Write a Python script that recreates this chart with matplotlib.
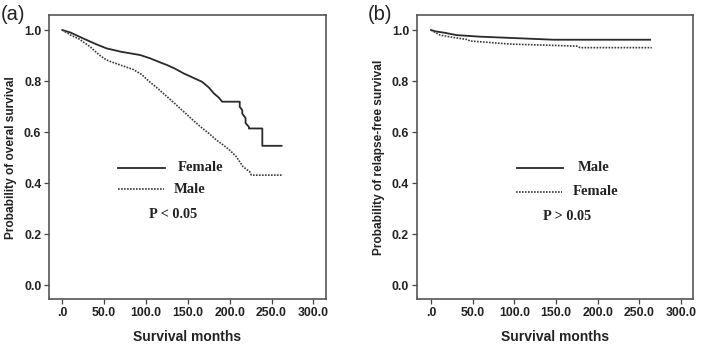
import matplotlib
matplotlib.use("Agg")
import matplotlib.pyplot as plt

# ---------------- data ----------------
# (a) overall survival
os_female_t = [0, 10, 25, 40, 53, 70, 93, 105, 117, 125, 135, 145, 155, 167, 175, 181, 187, 191,
               212, 212, 215, 215, 219, 219, 223, 223, 239, 239, 262]
os_female_s = [1.0, 0.99, 0.967, 0.945, 0.928, 0.915, 0.902, 0.889, 0.873, 0.863, 0.848, 0.830,
               0.815, 0.797, 0.775, 0.752, 0.735, 0.719,
               0.719, 0.699, 0.686, 0.673, 0.654, 0.635, 0.620, 0.614, 0.614, 0.546, 0.546]
os_male_t = [0, 10, 20, 33, 45, 53, 70, 85, 95, 105, 115, 125, 135, 145, 155, 165, 175, 184,
             192, 200, 208, 216, 224, 226, 262]
os_male_s = [1.0, 0.98, 0.965, 0.935, 0.90, 0.882, 0.862, 0.845, 0.825, 0.795, 0.768, 0.739,
             0.71, 0.68, 0.65, 0.621, 0.595, 0.569, 0.55, 0.529, 0.503, 0.464, 0.444, 0.431, 0.431]

# (b) relapse-free survival
rfs_male_t = [0, 5, 15, 31, 59, 111, 147, 263]
rfs_male_s = [1.0, 0.995, 0.99, 0.98, 0.974, 0.967, 0.962, 0.962]
rfs_female_t = [0, 11, 27, 43, 47, 95, 175, 179, 265]
rfs_female_s = [1.0, 0.98, 0.971, 0.963, 0.957, 0.945, 0.937, 0.931, 0.931]

xticks = [0, 50, 100, 150, 200, 250, 300]
xticklabels = [".0", "50.0", "100.0", "150.0", "200.0", "250.0", "300.0"]
yticks = [0.0, 0.2, 0.4, 0.6, 0.8, 1.0]
yticklabels = ["0.0", "0.2", "0.4", "0.6", "0.8", "1.0"]

# ---------------- figure ----------------
fig = plt.figure(figsize=(7.01, 3.46), dpi=100)
ax_a = fig.add_axes([49/701, 1-299.3/346, (326-49)/701, (299.3-15)/346])
ax_b = fig.add_axes([416.7/701, 1-299.3/346, (693.3-416.7)/701, (299.3-15)/346])

solid_kw = dict(color="#2a2a2a", lw=1.3, linestyle="-")
dot_kw = dict(color="#3a3a3a", lw=1.2, linestyle=(0, (1, 0.8)))
serif = ["Liberation Serif", "DejaVu Serif"]
sans = ["Liberation Sans", "DejaVu Sans"]


def style(ax, xlim, ylabel):
    ax.set_xlim(*xlim)
    ax.set_ylim(-0.056, 1.059)
    ax.set_xticks(xticks)
    ax.set_xticklabels(xticklabels, fontsize=8.8, fontweight="bold", family=sans, color="#222")
    ax.set_yticks(yticks)
    ax.set_yticklabels(yticklabels, fontsize=8.8, fontweight="bold", family=sans, color="#222")
    ax.tick_params(direction="out", length=3.5, width=0.9, color="#444", pad=2)
    for sp in ax.spines.values():
        sp.set_color("#555555")
        sp.set_linewidth(1.2)
    ax.set_xlabel("Survival months", fontsize=10, fontweight="bold", family=sans,
                  color="#222", labelpad=8)
    ax.set_ylabel(ylabel, fontsize=8.6, fontweight="bold", family=sans, color="#222", labelpad=5)


# (a)
ax_a.plot(os_female_t, os_female_s, **solid_kw)
ax_a.plot(os_male_t, os_male_s, **dot_kw)
style(ax_a, (-15.9, 315.1), "Probability of overal survival")
ax_a.plot([66.8, 123], [0.459, 0.459], **solid_kw)
ax_a.plot([66.8, 121], [0.376, 0.376], **dot_kw)
ax_a.text(137.5, 0.459, "Female", fontsize=10.5, fontweight="bold", family=serif,
          va="center", ha="left", color="#222")
ax_a.text(133, 0.376, "Male", fontsize=10.5, fontweight="bold", family=serif,
          va="center", ha="left", color="#222")
ax_a.text(132, 0.278, "P < 0.05", fontsize=10.3, fontweight="bold", family=serif,
          va="center", ha="center", color="#222")
fig.text(1/701, 1-15/346, "(a)", fontsize=14.5, family=sans, va="center", ha="left", color="#222")

# (b)
ax_b.plot(rfs_male_t, rfs_male_s, **solid_kw)
ax_b.plot(rfs_female_t, rfs_female_s, **dot_kw)
style(ax_b, (-17.2, 314.8), "Probability of relapse-free survival")
ax_b.plot([103, 159], [0.459, 0.459], **solid_kw)
ax_b.plot([101.5, 157], [0.366, 0.366], **dot_kw)
ax_b.text(176, 0.459, "Male", fontsize=10.5, fontweight="bold", family=serif,
          va="center", ha="left", color="#222")
ax_b.text(169.5, 0.366, "Female", fontsize=10.5, fontweight="bold", family=serif,
          va="center", ha="left", color="#222")
ax_b.text(163, 0.268, "P > 0.05", fontsize=10.3, fontweight="bold", family=serif,
          va="center", ha="center", color="#222")
fig.text(368/701, 1-15/346, "(b)", fontsize=14.5, family=sans, va="center", ha="left", color="#222")

fig.savefig("out.png", dpi=100)
